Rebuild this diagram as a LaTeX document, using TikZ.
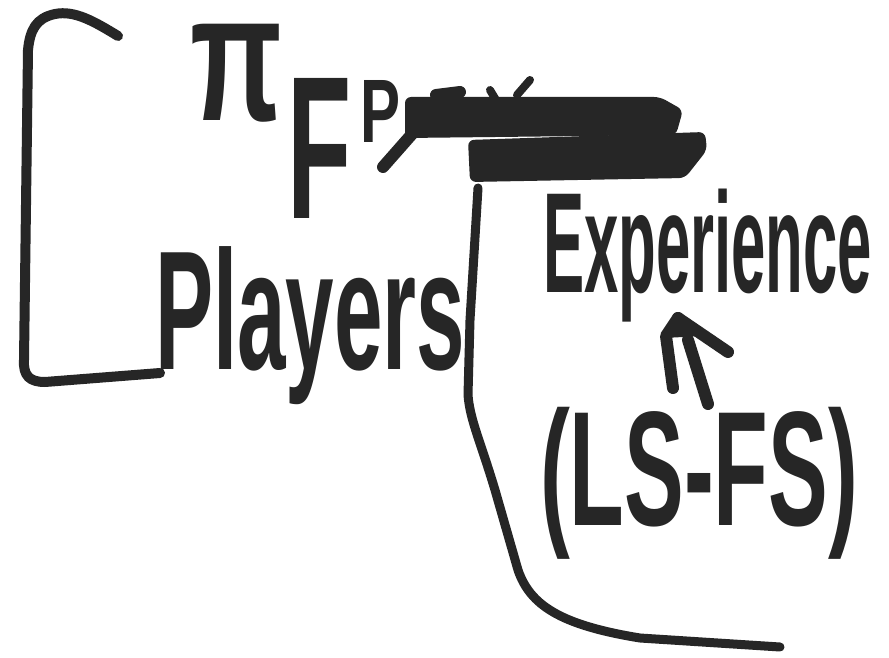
\documentclass[tikz,border=0pt]{standalone}
\usepackage{graphicx}
\usepackage{fontspec}
\setmainfont{Liberation Sans}
\definecolor{ink}{RGB}{38,38,38}
\newcommand{\fitbox}[3]{\resizebox*{#1pt}{#2pt}{\bfseries #3}}
\newcommand{\fitthin}[3]{\resizebox*{#1pt}{#2pt}{#3}}
\tikzset{
  pen/.style={draw=ink, line width=10pt, line cap=round, line join=round},
  word/.style={inner sep=0pt, outer sep=0pt, anchor=north west, text=ink},
}
\begin{document}
\begin{tikzpicture}[x=1pt, y=-1pt]
\fill[white] (0,0) rectangle (889,658);
\useasboundingbox (0,0) rectangle (889,658);

% left bracket
\draw[pen] (118,36) .. controls (95,22) and (75,10) .. (55,14)
  .. controls (36,18) and (30,30) .. (28,50) -- (24,360)
  .. controls (23,376) and (30,382) .. (45,382) -- (160,373);

% texts
\node[word] (pi) at (190,24) {\fitbox{92}{98}{π}};
\node[word] (F) at (287,78) {\fitbox{64}{140}{F}};
\node[word] (P) at (360,80) {\fitbox{40}{62}{P}};
\node[word] (players) at (155,247) {\fitbox{310}{158}{Players}};
\node[word] (exp) at (543,189) {\fitbox{329}{133}{Experience}};
\node[word] (lsfs) at (540,407) {\fitbox{318}{152}{(LS-FS)}};

% scribbled-out text
\draw[pen, line width=12pt] (383,167) -- (420,125);
\draw[pen, line width=12pt] (436,95) -- (460,92);
\draw[pen, line width=8pt] (490,90) -- (496,100);
\draw[pen, line width=8pt] (517,95) -- (530,80);
\fill[ink, rounded corners=6pt] (405,97) -- (660,97) -- (683,110) -- (676,135) -- (405,138) -- cycle;
\fill[ink, rounded corners=6pt] (468,140) -- (705,132) -- (707,150) -- (685,178) -- (470,182) -- cycle;

% dividing line
\draw[pen, line width=9pt] (478,188) -- (470,320) -- (468,395)
  .. controls (470,420) and (480,440) .. (495,490) -- (518,570)
  .. controls (530,605) and (560,625) .. (640,638) -- (780,647);

% arrow from (LS-FS) up to Experience
\coordinate (arrtail) at (690,405);
\coordinate (arrhead) at (678,318);
\draw[pen, line width=12pt] (673,388) -- (666,336) -- (arrhead);
\draw[pen, line width=12pt] (708,404) -- (688,340);
\draw[pen, line width=12pt] (arrhead) -- (728,352);
\fill[ink] (664,338) -- (arrhead) -- (702,336) -- cycle;
\end{tikzpicture}
\end{document}
